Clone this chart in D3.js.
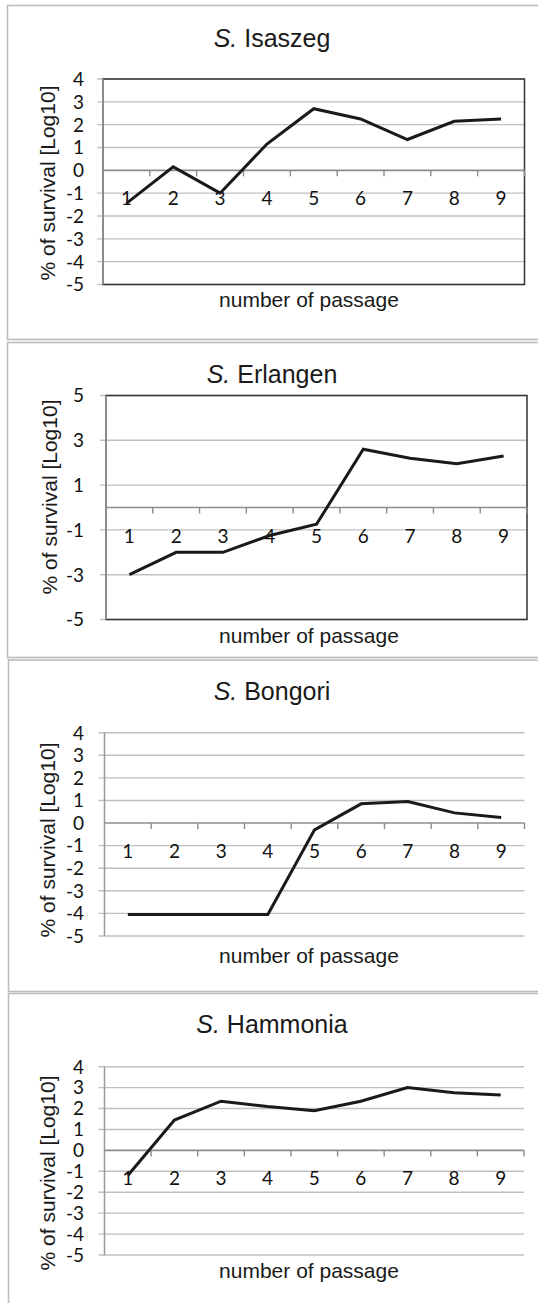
<!DOCTYPE html>
<html>
<head>
<meta charset="utf-8">
<script src="https://cdn.jsdelivr.net/npm/d3@7"></script>
<style>
  html, body { margin: 0; padding: 0; background: #fff; }
  svg { display: block; }
</style>
</head>
<body>
<svg id="chart" width="538" height="1303"></svg>
<script>
// Passage numbers on the x axis
const passages = [1, 2, 3, 4, 5, 6, 7, 8, 9];

// Survival per passage, log10 of percent
const isaszeg  = [-1.45, 0.15, -1.0, 1.15, 2.7, 2.25, 1.35, 2.15, 2.25];
const erlangen = [-3.0, -2.0, -2.0, -1.25, -0.75, 2.6, 2.2, 1.95, 2.3];
const bongori  = [-4.05, -4.05, -4.05, -4.05, -0.3, 0.85, 0.95, 0.45, 0.25];
const hammonia = [-1.2, 1.45, 2.35, 2.1, 1.9, 2.35, 3.0, 2.75, 2.65];

// Serovar names shown after the italic genus initial
const serovars = ["Isaszeg", "Erlangen", "Bongori", "Hammonia"];

// Value-axis tick labels
const ticksUnit = [-5, -4, -3, -2, -1, 0, 1, 2, 3, 4];
const ticksTwo  = [-5, -3, -1, 1, 3, 5];

const yTitle = "% of survival [Log10]";
const xTitle = "number of passage";

const svg = d3.select("#chart");

// Panel geometry: outer frame, plot area, title/axis-title placement
const panels = [
  { values: isaszeg, ticks: ticksUnit, domain: [-5, 4], boxed: true,
    frame: [7.5, 5.5, 560, 334], plot: [103, 79, 524.5, 284.5],
    titleY: 46.5, yTitleC: [48, 183], xTitleY: 306.5 },
  { values: erlangen, ticks: ticksTwo, domain: [-5, 5], boxed: true,
    frame: [7.5, 342.5, 560, 315], plot: [106, 395.5, 527, 619.5],
    titleY: 383, yTitleC: [49.5, 497], xTitleY: 643 },
  { values: bongori, ticks: ticksUnit, domain: [-5, 4], boxed: false,
    frame: [8.5, 660, 560, 331.5], plot: [104.5, 732.7, 524.5, 936],
    titleY: 700, yTitleC: [48, 840], xTitleY: 963 },
  { values: hammonia, ticks: ticksUnit, domain: [-5, 4], boxed: false,
    frame: [8.5, 993.5, 560, 340], plot: [104.5, 1066.7, 524, 1255],
    titleY: 1033, yTitleC: [48, 1173], xTitleY: 1277.5 }
];

const sans = "'Liberation Sans', Arial, sans-serif";
const tickFont = "Lato, 'Open Sans', sans-serif";
const tickSize = 19;

panels.forEach((p, i) => {
  const [fx, fy, fw, fh] = p.frame;
  const [x0, y0, x1, y1] = p.plot;
  const g = svg.append("g");

  // outer chart frame
  g.append("rect")
    .attr("x", fx).attr("y", fy).attr("width", fw).attr("height", fh)
    .attr("fill", "#fff").attr("stroke", "#bdbdbd").attr("stroke-width", 1.6);

  const x = d3.scaleBand().domain(passages).range([x0, x1]).padding(0);
  const y = d3.scaleLinear().domain(p.domain).range([y1, y0]);
  const cx = d => x(d) + x.bandwidth() / 2;

  // horizontal gridlines (zero is drawn as the category axis)
  g.append("g").selectAll("line")
    .data(p.ticks.filter(t => t !== 0))
    .join("line")
    .attr("x1", x0 - 6).attr("x2", x1)
    .attr("y1", d => y(d)).attr("y2", d => y(d))
    .attr("stroke", "#c0c0c0").attr("stroke-width", 1.4);

  // plot-area border
  if (p.boxed) {
    g.append("rect")
      .attr("x", x0).attr("y", y0).attr("width", x1 - x0).attr("height", y1 - y0)
      .attr("fill", "none").attr("stroke", "#333").attr("stroke-width", 1.5);
  }

  // value axis line
  g.append("line")
    .attr("x1", x0).attr("x2", x0).attr("y1", y0).attr("y2", y1)
    .attr("stroke", "#9a9a9a").attr("stroke-width", 1.5);

  // value axis labels
  g.append("g").selectAll("text")
    .data(p.ticks)
    .join("text")
    .attr("x", 84).attr("y", d => y(d))
    .attr("dy", "0.36em")
    .attr("text-anchor", "end")
    .attr("font-family", tickFont).attr("font-size", tickSize)
    .attr("fill", "#111")
    .text(d => d);

  // category axis along zero with boundary ticks
  const zy = y(0);
  g.append("line")
    .attr("x1", x0).attr("x2", x1).attr("y1", zy).attr("y2", zy)
    .attr("stroke", "#8c8c8c").attr("stroke-width", 1.6);
  const bounds = passages.map(d => x(d)).concat([x1]).slice(1);
  g.append("g").selectAll("line")
    .data(bounds)
    .join("line")
    .attr("x1", d => d).attr("x2", d => d)
    .attr("y1", zy).attr("y2", zy + 6)
    .attr("stroke", "#8c8c8c").attr("stroke-width", 1.4);

  // category labels
  g.append("g").selectAll("text")
    .data(passages)
    .join("text")
    .attr("x", d => cx(d)).attr("y", zy + 35)
    .attr("text-anchor", "middle")
    .attr("font-family", tickFont).attr("font-size", tickSize)
    .attr("fill", "#111")
    .text(d => d);

  // survival line
  const line = d3.line().x((d, k) => cx(passages[k])).y(d => y(d));
  g.append("path")
    .datum(p.values)
    .attr("d", line)
    .attr("fill", "none").attr("stroke", "#1a1a1a")
    .attr("stroke-width", 3).attr("stroke-linejoin", "miter");

  // chart title
  const t = g.append("text")
    .attr("x", 272).attr("y", p.titleY)
    .attr("text-anchor", "middle")
    .attr("font-family", sans).attr("font-size", 25)
    .attr("fill", "#1a1a1a");
  t.append("tspan").attr("font-style", "italic").text("S.");
  t.append("tspan").text(" " + serovars[i]);

  // axis titles
  g.append("text")
    .attr("transform", `translate(${p.yTitleC[0]},${p.yTitleC[1]}) rotate(-90)`)
    .attr("text-anchor", "middle").attr("dy", "0.35em")
    .attr("font-family", sans).attr("font-size", 21)
    .attr("fill", "#1a1a1a")
    .text(yTitle);
  g.append("text")
    .attr("x", 309).attr("y", p.xTitleY)
    .attr("text-anchor", "middle")
    .attr("font-family", sans).attr("font-size", 21)
    .attr("fill", "#1a1a1a")
    .text(xTitle);
});
</script>
</body>
</html>
